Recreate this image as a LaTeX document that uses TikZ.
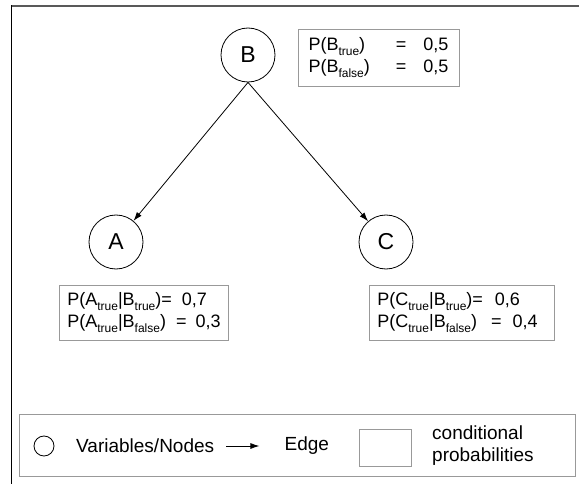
\documentclass[tikz,border=0pt]{standalone}
\usepackage{fontspec}
\setmainfont{Liberation Sans}
\usetikzlibrary{positioning,arrows.meta}
\tikzset{
    var/.style={draw, circle, line width=0.8pt, minimum size=54pt, inner sep=0pt,
        font=\fontsize{23}{26}\selectfont},
    cpt/.style={draw=gray!80, line width=0.8pt, inner xsep=8pt, inner ysep=4pt,
        align=left, font=\fontsize{18}{22}\selectfont},
    legtext/.style={inner sep=0pt, align=left,
        font=\fontsize{19}{22}\selectfont},
    link/.style={line width=0.8pt, -{Latex[length=9pt,width=6pt]}}
}
\newcommand{\lowsub}[1]{\raisebox{-0.27em}{\fontsize{12}{12}\selectfont #1}}
\newcommand{\tr}{\lowsub{true}}
\newcommand{\fa}{\lowsub{false}}

\begin{document}
\begin{tikzpicture}[x=1pt, y=1pt]
    \useasboundingbox (0, 0) rectangle (579, 483);
    % Frame
    \draw[gray!70!black, line width=1.2pt] (11, 477) -- (585, 477);
    \draw[line width=1pt] (11, 477.6) -- (11, -5);
    % Variables
    \node[var] (B) at (248, 428) {B};
    \node[var] (A) at (116, 241) {A};
    \node[var] (C) at (386, 241) {C};
    % Edges
    \draw[link] (B.south) -- (A);
    \draw[link] (B.south) -- (C);
    % Probabilities
    \node[cpt, minimum width=161pt, minimum height=57pt] (pB) at (378.5, 425.5)
        {\begin{tabular}{@{}l@{\hspace{26pt}}c@{\hspace{17pt}}l@{}}
            P(B\tr) & = & 0,5\\
            P(B\fa) & = & 0,5
        \end{tabular}};
    \node[cpt, anchor=north east, minimum height=55pt] (pA) at (229, 198)
        {P(A\tr|B\tr)= \ 0,7\\
         P(A\tr|B\fa)\hspace{10pt}=\hspace{9pt}0,3};
    \node[cpt, anchor=north west, text width=169pt, minimum height=55pt] (pC) at (369, 198)
        {P(C\tr|B\tr)= \ 0,6\\
         P(C\tr|B\fa)\hspace{14pt}=\hspace{11pt}0,4};
    % Legend
    \node[draw=gray!80, line width=0.8pt, minimum width=556pt, minimum height=62pt,
        anchor=south west] (legend) at (19, 6) {};
    \node[draw, circle, line width=0.8pt, minimum size=20pt, inner sep=0pt]
        (legvar) at (44, 37) {};
    \node[legtext, anchor=west] (legvartext) at (76, 37) {Variables/Nodes};
    \coordinate[right=12pt of legvartext] (legfrom);
    \coordinate[right=33pt of legfrom] (legto);
    \draw[link] (legfrom) -- (legto);
    \node[legtext, right=25pt of legto] (legedge) {Edge};
    \node[draw=gray!80, line width=0.8pt, minimum width=52pt, minimum height=37pt,
        inner sep=0pt] (legcpt) at (385, 35.5) {};
    \node[legtext, anchor=west] (legcpttext) at (432, 37) {conditional\\probabilities};
\end{tikzpicture}
\end{document}
